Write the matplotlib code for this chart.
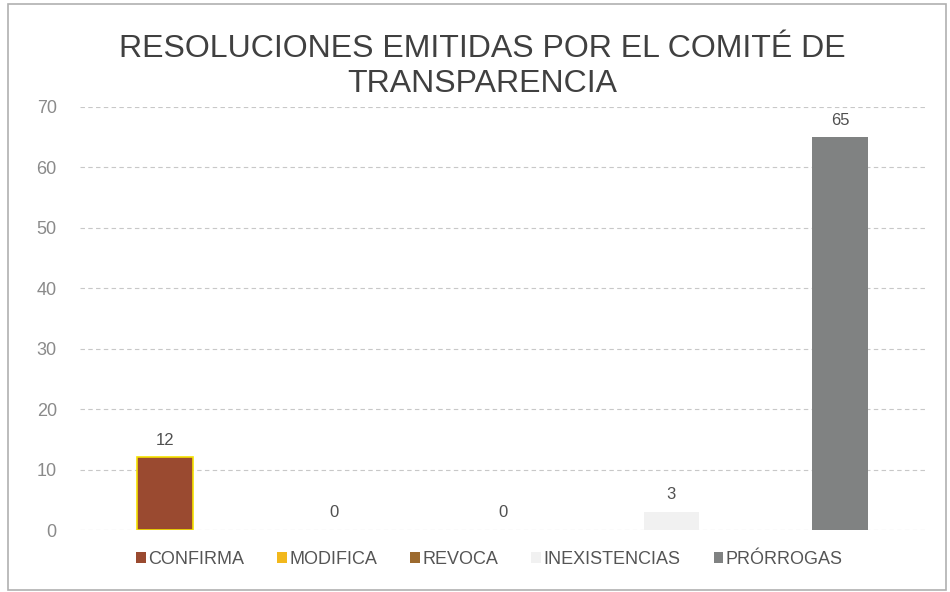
import matplotlib
matplotlib.use("Agg")
import matplotlib.pyplot as plt
from matplotlib.patches import Rectangle, Patch

categories = ["CONFIRMA", "MODIFICA", "REVOCA", "INEXISTENCIAS", "PRÓRROGAS"]
values = [12, 0, 0, 3, 65]
colors = ["#9A4A30", "#F2B81C", "#9C6A2E", "#F1F1F1", "#808282"]
title_lines = ["RESOLUCIONES EMITIDAS POR EL COMITÉ DE", "TRANSPARENCIA"]
yticks = [0, 10, 20, 30, 40, 50, 60, 70]

plt.rcParams['font.family'] = ['Liberation Sans', 'DejaVu Sans']

fig = plt.figure(figsize=(9.5, 5.92), dpi=100)
fig.patch.set_facecolor("white")
ax = fig.add_axes([0.0847, 0.1047, 0.8886, 0.7146])

x = list(range(len(categories)))
edges = ["#F5E100", "none", "none", "none", "none"]
bars = ax.bar(x, values, width=0.33, color=colors, edgecolor=edges, linewidth=1.2, zorder=3)

for xi, v in zip(x, values):
    ax.text(xi, v + 1.6, str(v), ha="center", va="bottom", fontsize=12, color="#505050")

ax.set_xlim(-0.5, len(categories) - 0.5)
ax.set_ylim(0, 70)
ax.set_yticks(yticks)
ax.set_yticklabels([str(t) for t in yticks])
ax.tick_params(axis="y", length=0, pad=17, labelsize=13, labelcolor="#8A8A8A")
ax.set_xticks([])
for s in ax.spines.values():
    s.set_visible(False)
ax.yaxis.grid(True, color="#C8C8C8", linestyle=(0, (4, 3)), linewidth=0.8, zorder=0)
ax.set_axisbelow(True)

fig.text(0.508, 0.918, title_lines[0], ha="center", va="center", fontsize=23, color="#404040")
fig.text(0.508, 0.858, title_lines[1], ha="center", va="center", fontsize=23, color="#404040")

handles = [Patch(facecolor=c, edgecolor="none") for c in colors]
leg = fig.legend(handles, categories, loc="center", bbox_to_anchor=(0.515, 0.055), ncol=5,
                 frameon=False, fontsize=13, handlelength=0.55, handleheight=0.55,
                 handletextpad=0.1, columnspacing=1.85, labelcolor="#555555")

fig.patches.append(Rectangle((0.008, 0.004), 0.988, 0.99, transform=fig.transFigure,
                             fill=False, edgecolor="#B0B0B0", linewidth=1.2))

fig.savefig("out.png", dpi=100, facecolor="white")
